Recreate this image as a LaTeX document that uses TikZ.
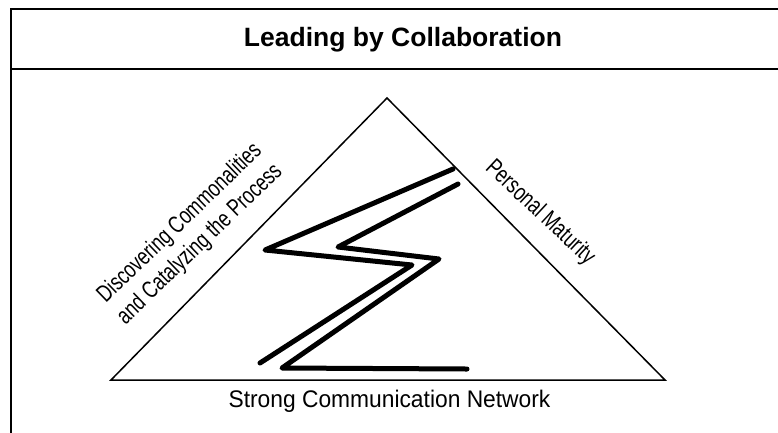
\documentclass[tikz,border=0pt]{standalone}
\usepackage{fontspec}
\setmainfont{Liberation Sans}

\begin{document}
\begin{tikzpicture}[x=1pt,y=-1pt,
	marco/.style={line width=2},
	lado/.style={line width=1.5},
	rayo/.style={line width=5, line cap=round, line join=round},
	rotulo/.style={font=\fontsize{24}{29}\selectfont, xscale=0.75, align=center, inner sep=0pt}]
	\useasboundingbox (0,0) rectangle (778,432);

	% Marco
	\begin{scope}
		\clip (0,0) rectangle (778,432);
		\draw [marco] (11,9) rectangle (795,445);
		\draw [marco] (11,69) -- (795,69);
	\end{scope}

	% Titulo
	\node (titulo) [anchor=base, font=\bfseries\fontsize{26.5}{30}\selectfont] at (403,46) {Leading by Collaboration};

	% Triangulo
	\coordinate (cima) at (387,98);
	\coordinate (izq) at (111,380);
	\coordinate (der) at (665,380);
	\draw [lado] (izq) -- (cima) -- (der) -- cycle;

	% Rayo
	\draw [rayo] (453,169) -- (265,250) -- (412,265) -- (260,363);
	\draw [rayo] (458,184) -- (338,247) -- (439,259) -- (282,368) -- (467,369);

	% Rotulos
	\node (base) [anchor=base, font=\fontsize{24}{28}\selectfont, xscale=0.95] at (389.5,407) {Strong Communication Network};
	\node (ladoizq) [rotate=44, rotulo] at (190,234) {Discovering Commonalities\\and Catalyzing the Process};
	\node (ladoder) [rotate=-43, rotulo] at (540,213) {Personal Maturity};
\end{tikzpicture}
\end{document}
